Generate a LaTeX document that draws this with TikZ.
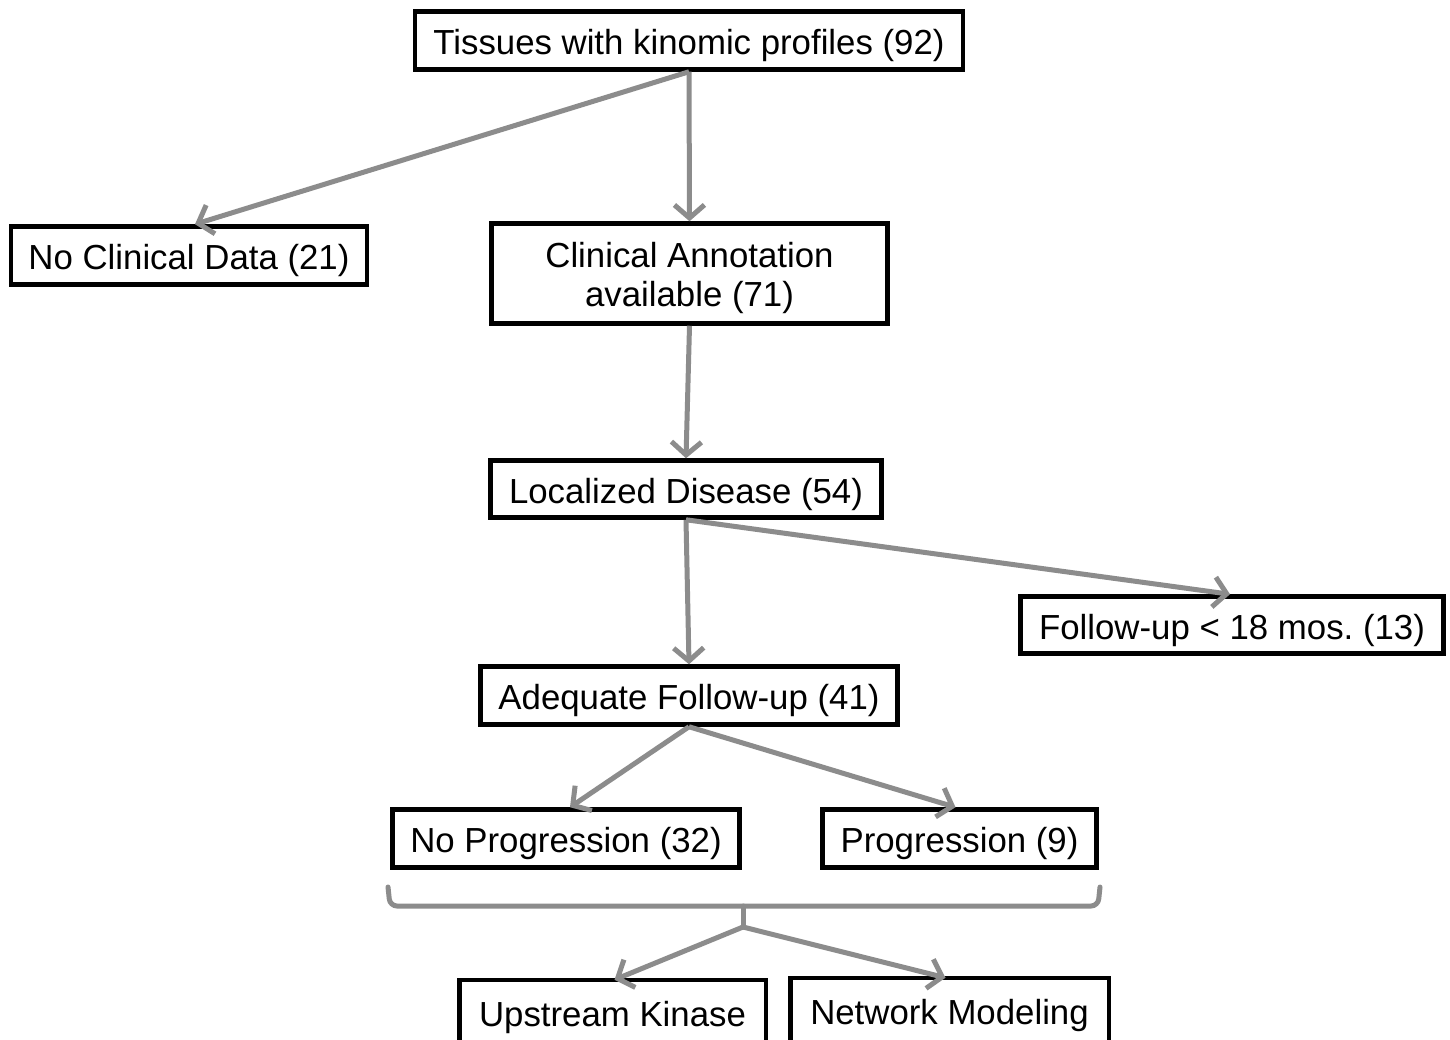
\documentclass[tikz,border=0pt]{standalone}
\usepackage{fontspec}
\setmainfont{Liberation Sans}
\usetikzlibrary{arrows.meta}
\definecolor{arrowgray}{RGB}{140,140,140}
\frenchspacing
\begin{document}
\begin{tikzpicture}[x=1pt,y=-1pt,
  box/.style={draw=black, line width=4.5pt, inner sep=0pt, align=center,
    text height=28pt, text depth=0pt,
    font=\fontsize{34.8}{39}\selectfont},
  openbox/.style={box, draw=none},
  conn/.style={draw=arrowgray, line width=5pt,
    -{Straight Barb[length=13pt,width=30pt]}},
  bracestyle/.style={draw=arrowgray, line width=5pt, line cap=round}]
\useasboundingbox[fill=white] (0,0) rectangle (1450,1040);
\node[box, minimum width=548pt, minimum height=58pt] (t) at (689,40.5) {Tissues with kinomic profiles (92)};
\node[box, minimum width=356pt, minimum height=58pt] (n) at (189,255.5) {No Clinical Data (21)};
\node[box, minimum width=396pt, minimum height=100pt, text height=67pt] (c) at (689.5,273.5) {Clinical Annotation\\available (71)};
\node[box, minimum width=391pt, minimum height=57pt] (l) at (686,489) {Localized Disease (54)};
\node[box, minimum width=423pt, minimum height=57pt] (f) at (1232,625) {Follow-up < 18 mos.\ (13)};
\node[box, minimum width=417pt, minimum height=58pt] (a) at (689,695.5) {Adequate Follow-up (41)};
\node[box, minimum width=347pt, minimum height=58pt] (np) at (566,838.5) {No Progression (32)};
\node[box, minimum width=274pt, minimum height=58pt] (p) at (959.5,838.5) {Progression (9)};
\node[openbox, minimum width=302pt, minimum height=60pt] (u) at (612.5,1012) {Upstream Kinase};
\node[openbox, minimum width=314pt, minimum height=60pt] (m) at (949.5,1010) {Network Modeling};
\draw[line width=4.5pt] ([yshift=-20pt]u.south west) -- (u.north west) -- (u.north east) -- ([yshift=-20pt]u.south east);
\draw[line width=4.5pt] ([yshift=-20pt]m.south west) -- (m.north west) -- (m.north east) -- ([yshift=-20pt]m.south east);
\coordinate (bm) at (743,927);
\draw[conn] (t.south) -- (c.north);
\draw[conn] (t.south) -- ([xshift=6pt]n.north);
\draw[conn] (c.south) -- (l.north);
\draw[conn] (l.south) -- (a.north);
\draw[conn] (l.south) -- ([xshift=-2pt]f.north);
\draw[conn] (a.south) -- ([xshift=4pt]np.north);
\draw[conn] (a.south) -- ([xshift=-4pt]p.north);
\draw[bracestyle, rounded corners=7pt] (388,887) -- (390,906) -- (1098,906) -- (1100,887);
\draw[bracestyle] (743,906) -- (bm);
\draw[conn] (bm) -- ([xshift=2pt]u.north);
\draw[conn] (bm) -- ([xshift=-4pt]m.north);
\end{tikzpicture}
\end{document}
